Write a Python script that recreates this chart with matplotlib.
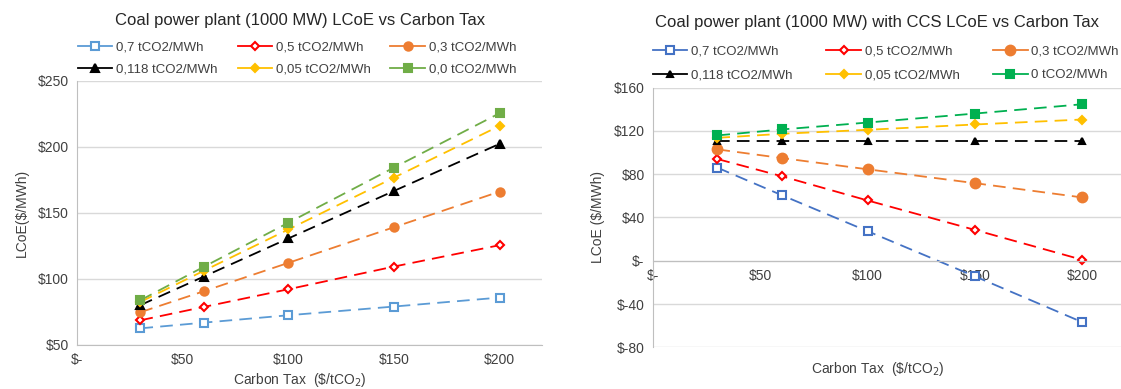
import matplotlib
matplotlib.use("Agg")
import matplotlib.pyplot as plt
from matplotlib.ticker import FuncFormatter

plt.rcParams['font.family'] = ['Liberation Sans', 'DejaVu Sans']

tax = [30, 60, 100, 150, 200]
labels_left = ["0,7 tCO2/MWh", "0,5 tCO2/MWh", "0,3 tCO2/MWh",
               "0,118 tCO2/MWh", "0,05 tCO2/MWh", "0,0 tCO2/MWh"]
labels_right = ["0,7 tCO2/MWh", "0,5 tCO2/MWh", "0,3 tCO2/MWh",
                "0,118 tCO2/MWh", "0,05 tCO2/MWh", "0 tCO2/MWh"]

left_07 = [62.4, 66.7, 72.3, 78.9, 85.7]
left_05 = [68.5, 78.6, 92.0, 109.2, 125.4]
left_03 = [74.6, 90.5, 112.0, 139.0, 166.0]
left_0118 = [80.0, 101.6, 130.5, 166.5, 202.2]
left_005 = [82.4, 106.0, 137.3, 176.6, 215.8]
left_00 = [83.7, 109.0, 142.4, 184.2, 225.4]

right_07 = [86.0, 60.6, 27.3, -14.4, -56.7]
right_05 = [94.0, 78.1, 55.7, 28.5, 0.9]
right_03 = [102.9, 94.9, 84.5, 71.7, 58.5]
right_0118 = [111.0, 111.0, 111.0, 111.0, 111.0]
right_005 = [113.6, 117.3, 121.0, 125.9, 130.5]
right_00 = [115.8, 121.3, 127.7, 136.0, 144.6]

x_ticks = [0, 50, 100, 150, 200]
left_yticks = [50, 100, 150, 200, 250]
right_yticks = [-80, -40, 0, 40, 80, 120, 160]


def money(v, pos=None):
    if v == 0:
        return "$-"
    return "${:d}".format(int(round(v)))


W, H = 1121, 389
fig = plt.figure(figsize=(W / 100, H / 100), dpi=100)
axL = fig.add_axes([0.0687, 0.1139, 0.4148, 0.6787])
axR = fig.add_axes([0.5825, 0.1069, 0.4175, 0.668])

grid_c = '#D9D9D9'
spine_c = '#BFBFBF'
text_c = '#404040'

dash = (0, (7, 4))

left_styles = [
    (left_07, '#5B9BD5', 's', 'none', 5.5),
    (left_05, '#FF0000', 'D', 'none', 4.5),
    (left_03, '#ED7D31', 'o', '#ED7D31', 6),
    (left_0118, '#000000', '^', '#000000', 5.5),
    (left_005, '#FFC000', 'D', '#FFC000', 4.5),
    (left_00, '#70AD47', 's', '#70AD47', 5.5),
]
right_styles = [
    (right_07, '#4472C4', 's', 'none', 5.5),
    (right_05, '#FF0000', 'D', 'none', 4.5),
    (right_03, '#ED7D31', 'o', '#ED7D31', 7),
    (right_0118, '#000000', '^', '#000000', 4.5),
    (right_005, '#FFC000', 'D', '#FFC000', 4),
    (right_00, '#00B050', 's', '#00B050', 6),
]


def draw(ax, styles, labels):
    handles = []
    for (vals, c, m, fc, ms), lab in zip(styles, labels):
        face = fc if fc != 'none' else 'white'
        ax.plot(tax, vals, color=c, linestyle=dash, linewidth=1.3,
                marker=m, markerfacecolor=face,
                markeredgecolor=c, markeredgewidth=1.5, markersize=ms)
        h, = ax.plot([], [], color=c, linestyle='-', linewidth=1.3,
                     marker=m, markerfacecolor=face,
                     markeredgecolor=c, markeredgewidth=1.5, markersize=ms,
                     label=lab)
        handles.append(h)
    # reorder so rows read: first three, then last three
    order = [0, 3, 1, 4, 2, 5]
    return [handles[i] for i in order]


hL = draw(axL, left_styles, labels_left)
hR = draw(axR, right_styles, labels_right)

# Left axes
axL.set_xlim(0, 220)
axL.set_ylim(50, 250)
axL.set_xticks(x_ticks)
axL.set_yticks(left_yticks)
axL.xaxis.set_major_formatter(FuncFormatter(money))
axL.yaxis.set_major_formatter(FuncFormatter(money))
axL.grid(axis='y', color=grid_c, linewidth=1)
axL.set_axisbelow(True)
for s in ['top', 'right']:
    axL.spines[s].set_visible(False)
for s in ['left', 'bottom']:
    axL.spines[s].set_color(spine_c)
axL.tick_params(length=0, labelsize=10, colors=text_c, pad=6)
axL.set_xlabel(r"Carbon Tax  (\$/tCO$_2$)", fontsize=10, color=text_c)
axL.xaxis.set_label_coords(0.48, -0.1)
axL.set_ylabel("LCoE($/MWh)", fontsize=10, color=text_c, labelpad=6)
fig.text(300 / W, 1 - 20 / H, "Coal power plant (1000 MW) LCoE vs Carbon Tax",
         fontsize=12, color='#262626', ha='center', va='center')
fig.legend(handles=hL, ncol=3, loc='upper left',
           bbox_to_anchor=(78 / W, 1 - 41 / H),
           frameon=False, fontsize=9.5, handlelength=2.6, columnspacing=1.5,
           handletextpad=0.3, labelcolor=text_c, borderaxespad=0.0,
           borderpad=0.0, labelspacing=0.75)

# Right axes
axR.set_xlim(0, 218)
axR.set_ylim(-80, 160)
axR.set_xticks(x_ticks)
axR.set_yticks(right_yticks)
axR.xaxis.set_major_formatter(FuncFormatter(money))
axR.yaxis.set_major_formatter(FuncFormatter(money))
axR.grid(axis='y', color=grid_c, linewidth=1)
axR.set_axisbelow(True)
axR.spines['bottom'].set_position(('data', 0))
axR.spines['bottom'].set_color(spine_c)
for s in ['top', 'right']:
    axR.spines[s].set_visible(False)
axR.spines['left'].set_color(spine_c)
axR.tick_params(length=0, labelsize=10, colors=text_c, pad=6)
axR.set_xlabel(r"Carbon Tax  (\$/tCO$_2$)", fontsize=10, color=text_c)
axR.set_ylabel("LCoE ($/MWh)", fontsize=10, color=text_c, labelpad=6)
axR.xaxis.set_label_coords(0.48, -0.05)
fig.text(877 / W, 1 - 23 / H, "Coal power plant (1000 MW) with CCS LCoE vs Carbon Tax",
         fontsize=12, color='#262626', ha='center', va='center')
fig.legend(handles=hR, ncol=3, loc='upper left',
           bbox_to_anchor=(653 / W, 1 - 45 / H),
           frameon=False, fontsize=9.5, handlelength=2.6, columnspacing=2.55,
           handletextpad=0.3, labelcolor=text_c, borderaxespad=0.0,
           borderpad=0.0, labelspacing=0.9)

fig.savefig("out.png", dpi=100)
